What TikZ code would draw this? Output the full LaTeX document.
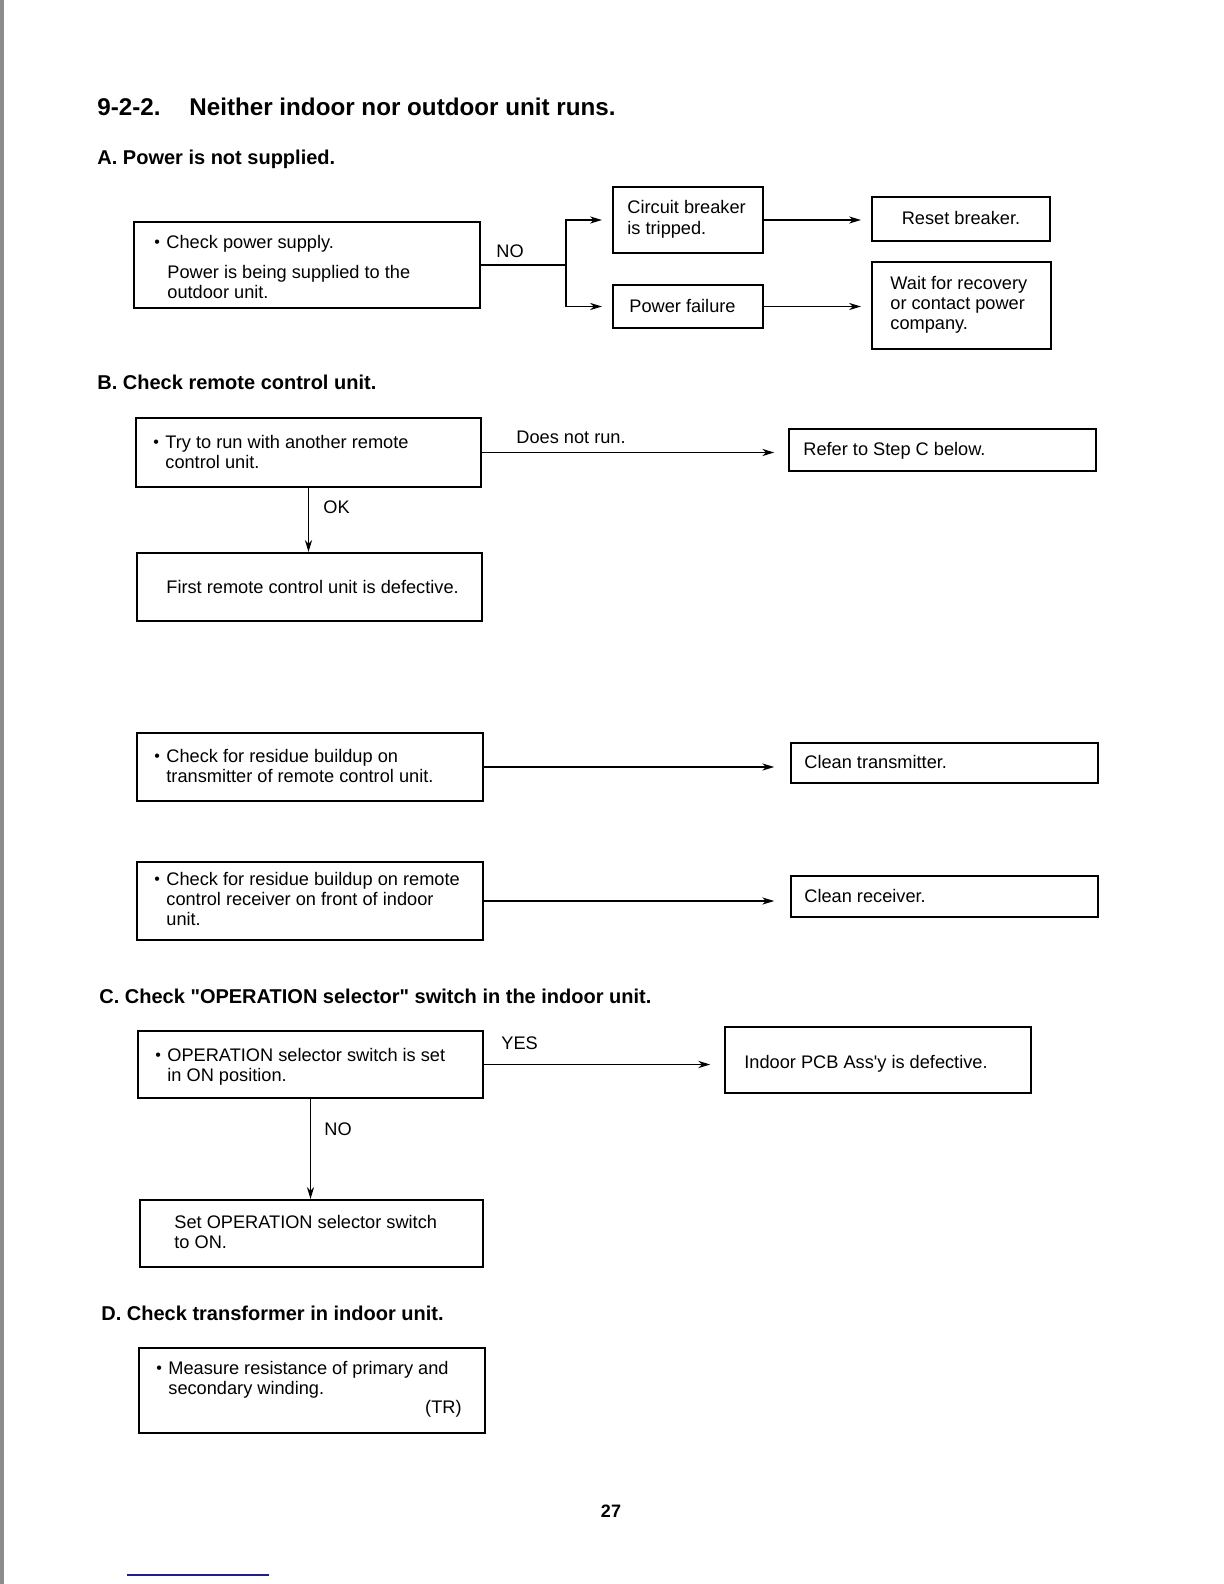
\documentclass[tikz,border=0pt]{standalone}
\usepackage{fontspec}
\setmainfont{Liberation Sans}
\usetikzlibrary{arrows.meta,fit}
\newcommand\mybul{\llap{\raisebox{0.5pt}{\fontsize{8}{8}\selectfont\textbullet}\hspace{3.2pt}}}
\begin{document}
\begin{tikzpicture}[x=0.5pt,y=-0.5pt,
  box/.style={draw, line width=1.35pt, inner sep=0pt, rectangle},
  mbox/.style={draw, line width=1.05pt, inner sep=0pt, rectangle},
  tbox/.style={draw, line width=0.8pt, inner sep=0pt, rectangle},
  txt/.style={inner sep=0pt, anchor=base west, font=\fontsize{9.1}{10}\selectfont, align=left},
  head/.style={inner sep=0pt, anchor=base west, font=\fontsize{10}{12}\selectfont\bfseries},
  title/.style={inner sep=0pt, anchor=base west, font=\fontsize{12.1}{14}\selectfont\bfseries},
  conn/.style={line width=0.65pt},
  arr/.style={line width=0.65pt, -{Stealth[length=6pt,width=3.6pt]}},
]
\path[use as bounding box, fill=white] (0,0) rectangle (1224,1584);
\fill[black!45] (0,0) rectangle (4,1584);
\draw[color={rgb,255:red,30;green,30;blue,140}, line width=0.6pt] (127,1575) -- (269,1575);

% Title and A
\node[title] (tnum) at (97,116) {9-2-2.};
\node[title] (ttxt) at (189,116) {Neither indoor nor outdoor unit runs.};
\node[head] (hA) at (97,164) {A. Power is not supplied.};

\node[box, fit={(134,222) (480,308)}] (chk) {};
\node[txt] (chk1) at (166,248) {\mybul Check power supply.};
\node[txt] (chk2) at (167,298) {Power is being supplied to the\\outdoor unit.};
\node[txt] (lno1) at (496,257) {NO};
\coordinate (jA) at (566,265);
\node[mbox, fit={(613,187) (763,253)}] (cb) {};
\node[txt] (cbt) at (627,234) {Circuit breaker\\is tripped.};
\node[mbox, fit={(613,285) (763,328)}] (pf) {};
\node[txt] (pft) at (629,312) {Power failure};
\node[mbox, fit={(872,197) (1050,241)}] (rb) {};
\node[txt, anchor=base] (rbt) at (961,224) {Reset breaker.};
\node[mbox, fit={(872,262) (1051,349)}] (wr) {};
\node[txt] (wrt) at (890,329) {Wait for recovery\\or contact power\\company.};

% B
\node[head] (hB) at (97,389) {B. Check remote control unit.};
\node[box, fit={(136,418) (481,487)}] (try) {};
\node[txt] (tryt) at (165,468) {\mybul Try to run with another remote\\control unit.};
\node[txt] (ldnr) at (516,443) {Does not run.};
\node[tbox, fit={(789,429) (1096,471)}] (refer) {};
\node[txt] (refert) at (803,455) {Refer to Step C below.};
\node[txt] (lok) at (323,513) {OK};
\node[mbox, fit={(137,553) (482,621)}] (first) {};
\node[txt] (firstt) at (166,593) {First remote control unit is defective.};

\node[box, fit={(137,733) (483,801)}] (res1) {};
\node[txt] (res1t) at (166,782) {\mybul Check for residue buildup on\\transmitter of remote control unit.};
\node[tbox, fit={(791,743) (1098,783)}] (ct) {};
\node[txt] (ctt) at (804,768) {Clean transmitter.};

\node[box, fit={(137,862) (483,940)}] (res2) {};
\node[txt] (res2t) at (166,925) {\mybul Check for residue buildup on remote\\control receiver on front of indoor\\unit.};
\node[tbox, fit={(791,876) (1098,917)}] (cr) {};
\node[txt] (crt) at (804,902) {Clean receiver.};

% C
\node[head] (hC) at (99,1003) {C. Check \textquotedbl OPERATION selector\textquotedbl{} switch in the indoor unit.};
\node[box, fit={(138,1031) (483,1098)}] (op) {};
\node[txt] (opt) at (167,1081) {\mybul OPERATION selector switch is set\\in ON position.};
\node[txt] (lyes) at (501,1049) {YES};
\node[tbox, fit={(725,1027) (1031,1093)}] (pcb) {};
\node[txt] (pcbt) at (744,1068) {Indoor PCB Ass\textquotesingle y is defective.};
\node[txt] (lno2) at (324,1135) {NO};
\node[mbox, fit={(140,1200) (483,1267)}] (set) {};
\node[txt] (sett) at (174,1248) {Set OPERATION selector switch\\to ON.};

% D
\node[head] (hD) at (101,1320) {D. Check transformer in indoor unit.};
\node[box, fit={(139,1348) (485,1433)}] (meas) {};
\node[txt] (meast) at (168,1394) {\mybul Measure resistance of primary and\\secondary winding.};
\node[txt, anchor=base east] (tr) at (462,1413) {(TR)};

\node[inner sep=0pt, anchor=base, font=\fontsize{9}{10}\selectfont\bfseries] (pg) at (611,1517) {27};

% connectors
\draw[conn] (chk.east) -- (jA);
\draw[arr, shorten >=5pt] (jA) |- (cb.west);
\draw[arr, shorten >=5pt] (jA) |- (pf.west);
\draw[arr, shorten >=5pt] (cb.east) -- (cb.east -| rb.west);
\draw[arr, shorten >=5pt] (pf.east) -- (pf.east -| wr.west);
\draw[arr, shorten >=7pt] (try.east) -- (try.east -| refer.west);
\draw[arr] (try.south) -- (try.south |- first.north);
\draw[arr, shorten >=8pt] (res1.east) -- (res1.east -| ct.west);
\draw[arr, shorten >=8pt] (res2.east) -- (res2.east -| cr.west);
\draw[arr, shorten >=7pt] (op.east) -- (op.east -| pcb.west);
\draw[arr] (op.south) -- (op.south |- set.north);
\end{tikzpicture}
\end{document}
